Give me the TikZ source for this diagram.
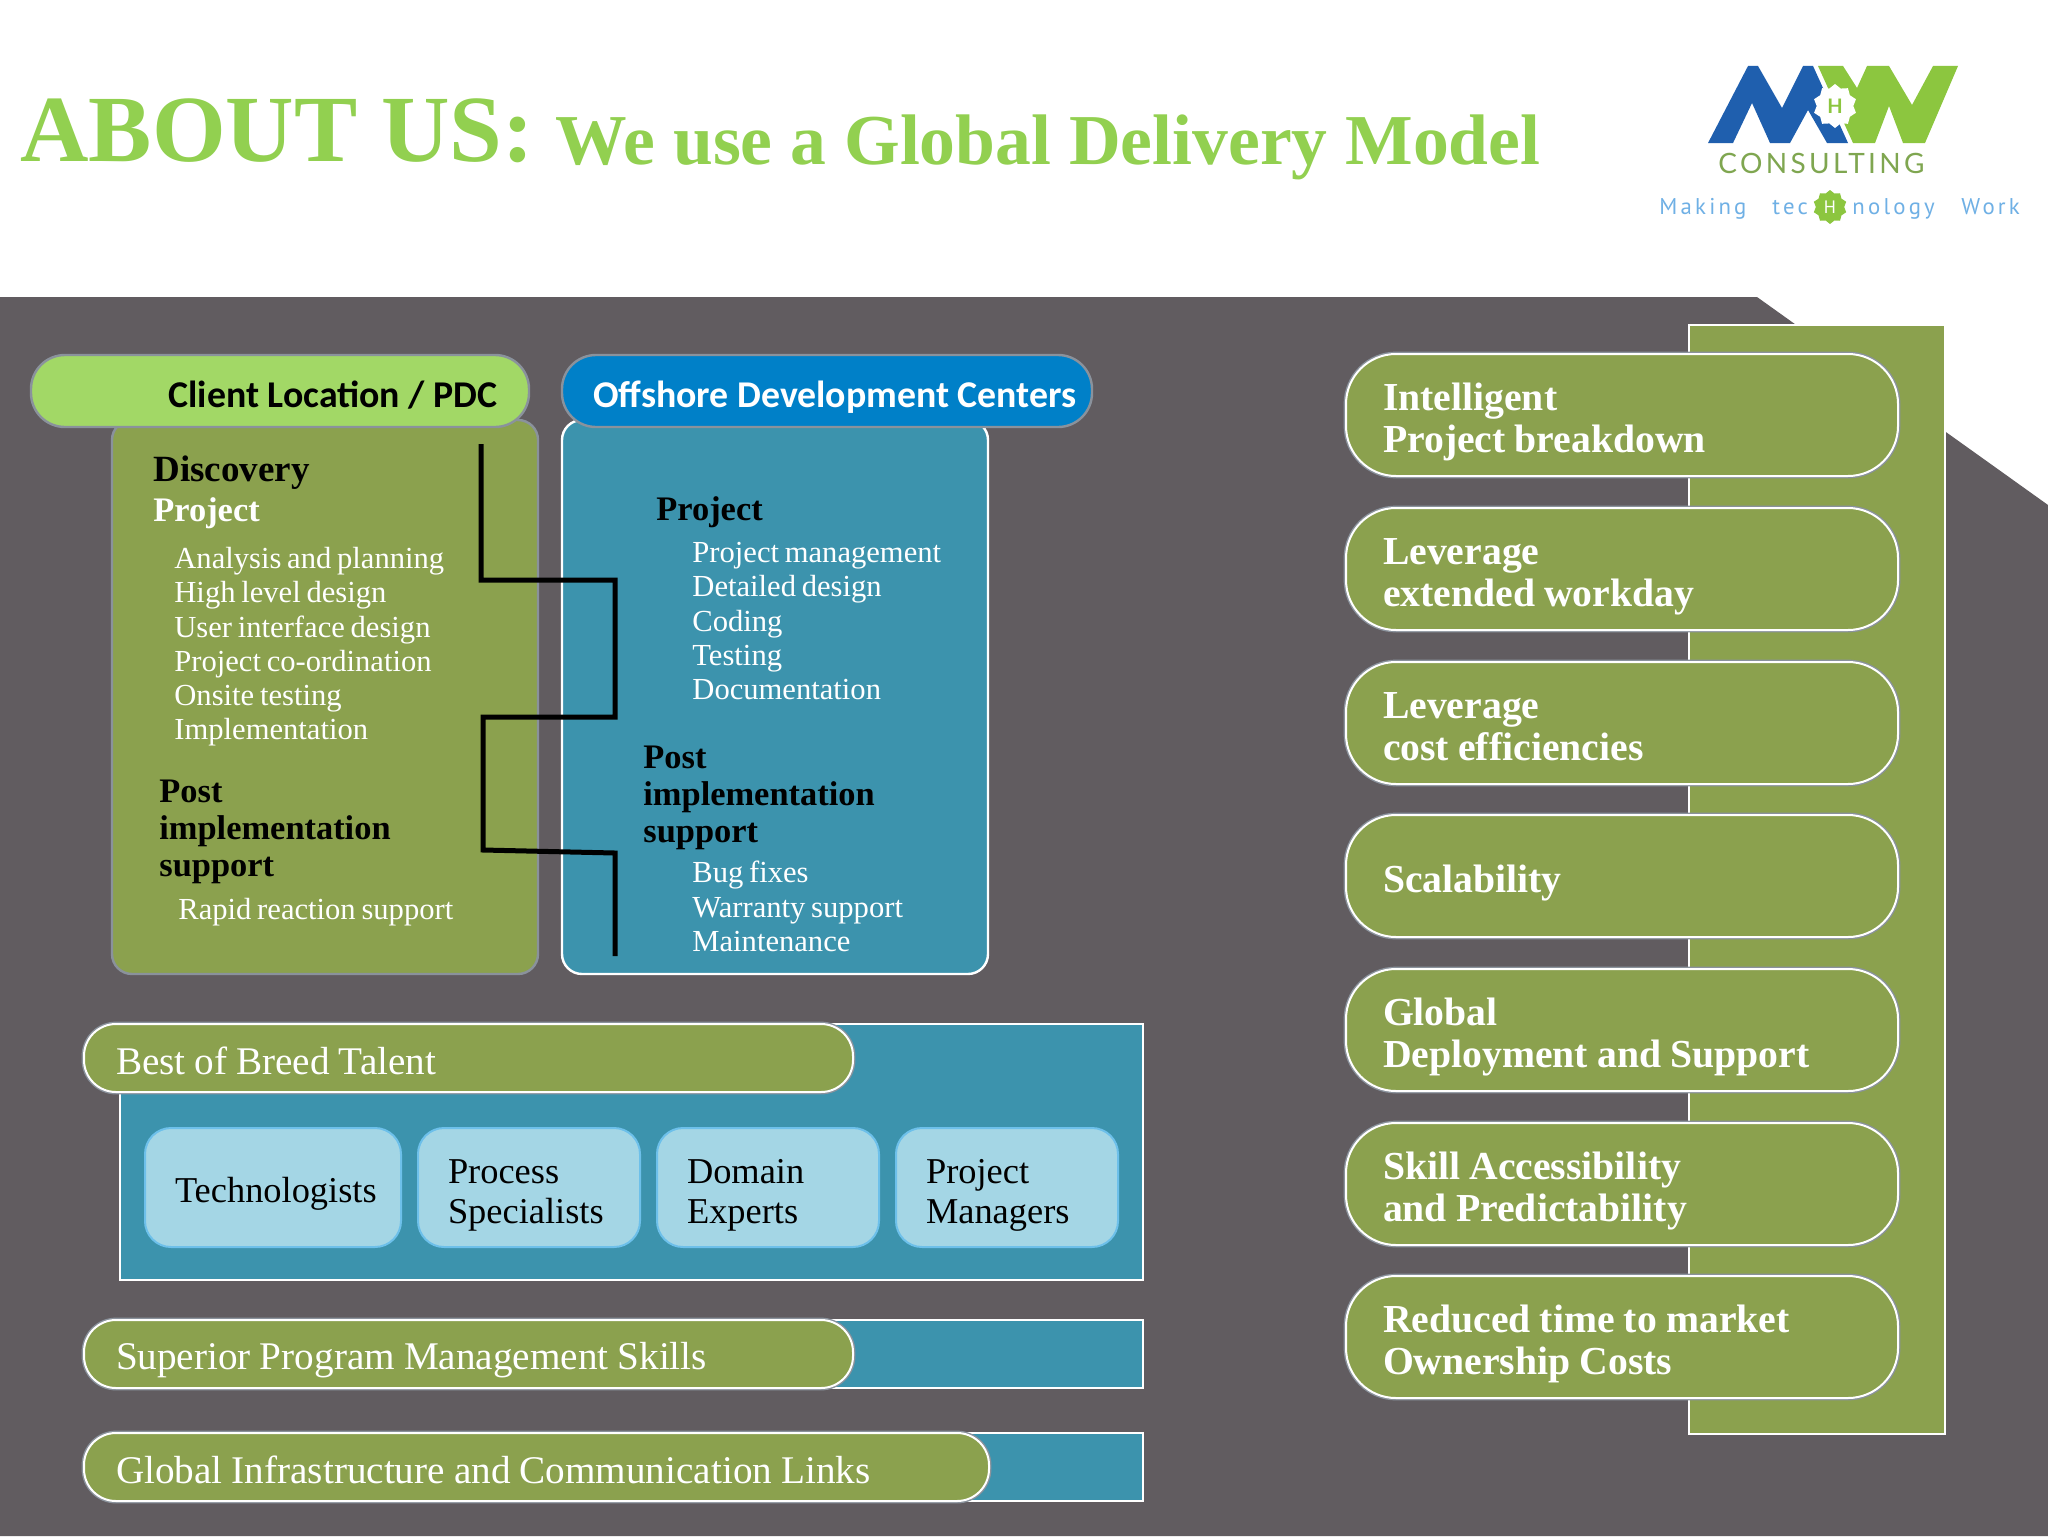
\documentclass[tikz,border=0pt]{standalone}
\usepackage{fontspec}
\setmainfont[WordSpace=0.75]{Liberation Serif}
\newfontfamily\calibfont{Carlito}
\newfontfamily\logofont[LetterSpace=12]{Lato}
\newfontfamily\tagfont[LetterSpace=14]{PT Sans}
\usetikzlibrary{shapes,positioning}
\definecolor{slate}{HTML}{615C60}
\definecolor{olive}{HTML}{8BA14E}
\definecolor{teal}{HTML}{3C93AD}
\definecolor{leaf}{HTML}{92D050}
\definecolor{lime}{HTML}{A2D866}
\definecolor{ocean}{HTML}{0080C8}
\definecolor{sky}{HTML}{A4D6E5}
\definecolor{skyline}{HTML}{6DC0EA}
\definecolor{bevel}{HTML}{8A929C}
\definecolor{logoblue}{HTML}{1F5FAE}
\definecolor{logogreen}{HTML}{8CC63F}
\definecolor{tagblue}{HTML}{6FB0E5}
\definecolor{logotext}{HTML}{7FA650}
\tikzset{textbox/.style 2 args={execute at begin node={\spaceskip=.23em\rule{0pt}{#1}}, execute at end node={\rule[-#2]{0pt}{#2}}}}
\begin{document}
\begin{tikzpicture}[x=0.5pt,y=-0.5pt]
    \tikzstyle{pillbase} = [rectangle, anchor=north west, outer sep=0pt, align=left, preaction={draw=bevel, line width=2.4pt}, draw=white, line width=1pt]
    \tikzstyle{bigpill} = [pillbase, fill=olive, rounded corners=25pt, minimum height=61pt, inner xsep=18.5pt, inner ysep=0pt, text width=239pt, text=white, textbox={21.3pt}{5pt}, font=\fontsize{19.85}{21.3}\selectfont\bfseries]
    \tikzstyle{longpill} = [pillbase, fill=olive, rounded corners=16pt, minimum height=34pt, inner xsep=16pt, inner ysep=0pt, text=white, textbox={20pt}{4pt}, font=\fontsize{19.6}{22}\selectfont]
    \tikzstyle{headpill} = [rectangle, anchor=north west, outer sep=0pt, rounded corners=17pt, minimum height=36pt, draw=bevel, line width=1.2pt, inner ysep=0pt, text height=19.5pt, text depth=3pt, font=\calibfont\fontsize{18.9}{22}\selectfont\bfseries]
    \tikzstyle{panel} = [rectangle, anchor=north west, outer sep=0pt, rounded corners=10pt, minimum width=213pt, minimum height=277pt, line width=1.2pt]
    \tikzstyle{talentbox} = [rectangle, anchor=north west, outer sep=0pt, rounded corners=13pt, fill=sky, draw=skyline, line width=1pt, minimum height=59.5pt, inner xsep=15pt, inner ysep=0pt, align=left, textbox={20.6pt}{5pt}, font=\fontsize{18.2}{20}\selectfont]
    \tikzstyle{strip} = [rectangle, anchor=north west, outer sep=0pt, fill=teal, draw=white, line width=0.7pt]
    \tikzstyle{phead} = [anchor=north west, inner sep=0pt, align=left, font=\fontsize{17.2}{18.5}\selectfont\bfseries]
    \tikzstyle{plist} = [anchor=north west, inner sep=0pt, align=left, text=white, font=\fontsize{15.3}{17.1}\selectfont]
    % background and title
    \useasboundingbox (0,0) rectangle (2048,1536);
    \fill[white] (0,0) rectangle (2048,1536);
    \fill[slate] (0,297) -- (1757,297) -- (2048,505) -- (2048,1536) -- (0,1536) -- cycle;
    \node[anchor=base west, inner sep=0pt, text=leaf, font=\bfseries] (title) at (20,164) {\fontsize{47.4}{50}\selectfont\spaceskip=.25em\raisebox{1.3pt}{ABOUT US:}\hspace{11pt}\fontsize{35.8}{38}\selectfont\spaceskip=.25em We use a Global Delivery Model};
    % logo
    \fill[logoblue] (1708,143) -- (1748,66) -- (1758,66) -- (1782,108) -- (1803,66) -- (1813,66) -- (1848,143) -- (1827,143) -- (1808,110) -- (1790,143) -- (1770,143) -- (1752,103) -- (1733,143) -- cycle;
    \fill[logogreen] (1818,66) -- (1843,66) -- (1857,88) -- (1867,66) -- (1889,66) -- (1912,105) -- (1933,66) -- (1958,66) -- (1925,143) -- (1903,143) -- (1889,106) -- (1875,143) -- (1853,143) -- cycle;
    \node[star, star points=10, star point ratio=1.2, fill=white, inner sep=0pt, minimum size=22pt, text=logogreen, font=\logofont\fontsize{10}{10}\selectfont\bfseries] (gear) at (1835,106) {H};
    \node[anchor=base west, inner sep=0pt, text=logotext, font=\logofont\fontsize{14}{14}\selectfont] (consult) at (1718,173) {CONSULTING};
    \node[anchor=base west, inner sep=0pt, text=tagblue, font=\tagfont\fontsize{11.4}{12}\selectfont] (making) at (1659,214) {Making};
    \node[anchor=base west, inner sep=0pt, text=tagblue, font=\tagfont\fontsize{11.4}{12}\selectfont] (tec) at (1772,214) {tec};
    \node[star, star points=10, star point ratio=1.2, fill=logogreen, inner sep=0pt, minimum size=17pt, text=white, font=\tagfont\fontsize{9}{9}\selectfont] (badge) at (1830,207) {H};
    \node[anchor=base west, inner sep=0pt, text=tagblue, font=\tagfont\fontsize{11.4}{12}\selectfont] (nology) at (1852,214) {nology};
    \node[anchor=base west, inner sep=0pt, text=tagblue, font=\tagfont\fontsize{11.4}{12}\selectfont] (work) at (1961,214) {Work};
    % right column
    \node[rectangle, anchor=north west, outer sep=0pt, fill=olive, draw=white, line width=0.7pt, minimum width=128pt, minimum height=554.5pt] (bar) at (1689,325) {};
    \node[bigpill] (breakdown) at (1346,354) {Intelligent\\Project breakdown};
    \node[bigpill] (workday) at (1346,508) {Leverage\\extended workday};
    \node[bigpill] (cost) at (1346,662) {Leverage\\cost efficiencies};
    \node[bigpill] (scale) at (1346,815) {Scalability};
    \node[bigpill] (deploy) at (1346,969) {Global\\Deployment and Support};
    \node[bigpill] (skill) at (1346,1123) {Skill Accessibility\\and Predictability};
    \node[bigpill] (market) at (1346,1276) {Reduced time to market\\Ownership Costs};
    % client and offshore panels
    \node[panel, fill=olive, draw=bevel] (client) at (112,420) {};
    \node[panel, fill=teal, draw=white] (offshore) at (562,420) {};
    \node[headpill, fill=lime, text=black, minimum width=249pt] (clienthead) at (31,355) {\hspace{53pt}Client Location / PDC};
    \node[headpill, fill=ocean, text=white, minimum width=265pt] (offshorehead) at (562,355) {\hspace{8pt}Offshore Development Centers};
    \node[phead, font=\fontsize{18.5}{20}\selectfont\bfseries] (discovery) at (153,455) {Discovery};
    \node[phead, text=white] (projecta) at (153,497) {Project};
    \node[plist] (lista) at (174,547) {Analysis and planning\\High level design\\User interface design\\Project co-ordination\\Onsite testing\\Implementation};
    \node[phead] (posta) at (159,780) {Post\\implementation\\support};
    \node[plist] (rapid) at (178,898) {Rapid reaction support};
    \node[phead] (projectb) at (656,496) {Project};
    \node[plist] (listb) at (692,542) {Project management\\Detailed design\\Coding\\Testing\\Documentation};
    \node[phead] (postb) at (643,746) {Post\\implementation\\support};
    \node[plist] (listc) at (692,861) {Bug fixes\\Warranty support\\Maintenance};
    % stepped line
    \coordinate (s0) at (481,444);
    \coordinate (s1) at (481,580);
    \coordinate (s2) at (615,580);
    \coordinate (s3) at (615,717);
    \coordinate (s4) at (483,717);
    \coordinate (s5) at (483,850);
    \coordinate (s6) at (615,853);
    \coordinate (s7) at (615,956);
    \draw[black, line width=2.5pt] (s0) -- (s1) -- (s2) -- (s3) -- (s4) -- (s5) -- (s6) -- (s7);
    % lower strips
    \node[strip, minimum width=511.5pt, minimum height=128pt] (talent) at (120,1024) {};
    \node[strip, minimum width=511.5pt, minimum height=34pt] (superior) at (120,1320) {};
    \node[strip, minimum width=511.5pt, minimum height=34pt] (infra) at (120,1433) {};
    \node[longpill, text width=352.5pt] (breed) at (84,1024) {Best of Breed Talent};
    \node[longpill, text width=352.5pt] (program) at (84,1320) {Superior Program Management Skills};
    \node[longpill, text width=420.5pt] (links) at (84,1433) {Global Infrastructure and Communication Links};
    \node[talentbox, text width=98pt, text height=19.5pt, text depth=5pt] (tech) at (145,1128) {\mbox{Technologists}};
    \node[talentbox, text width=81pt] (process) at (418,1128) {Process\\Specialists};
    \node[talentbox, text width=81pt] (domain) at (657,1128) {Domain\\Experts};
    \node[talentbox, text width=81pt] (managers) at (896,1128) {Project\\Managers};
\end{tikzpicture}
\end{document}
